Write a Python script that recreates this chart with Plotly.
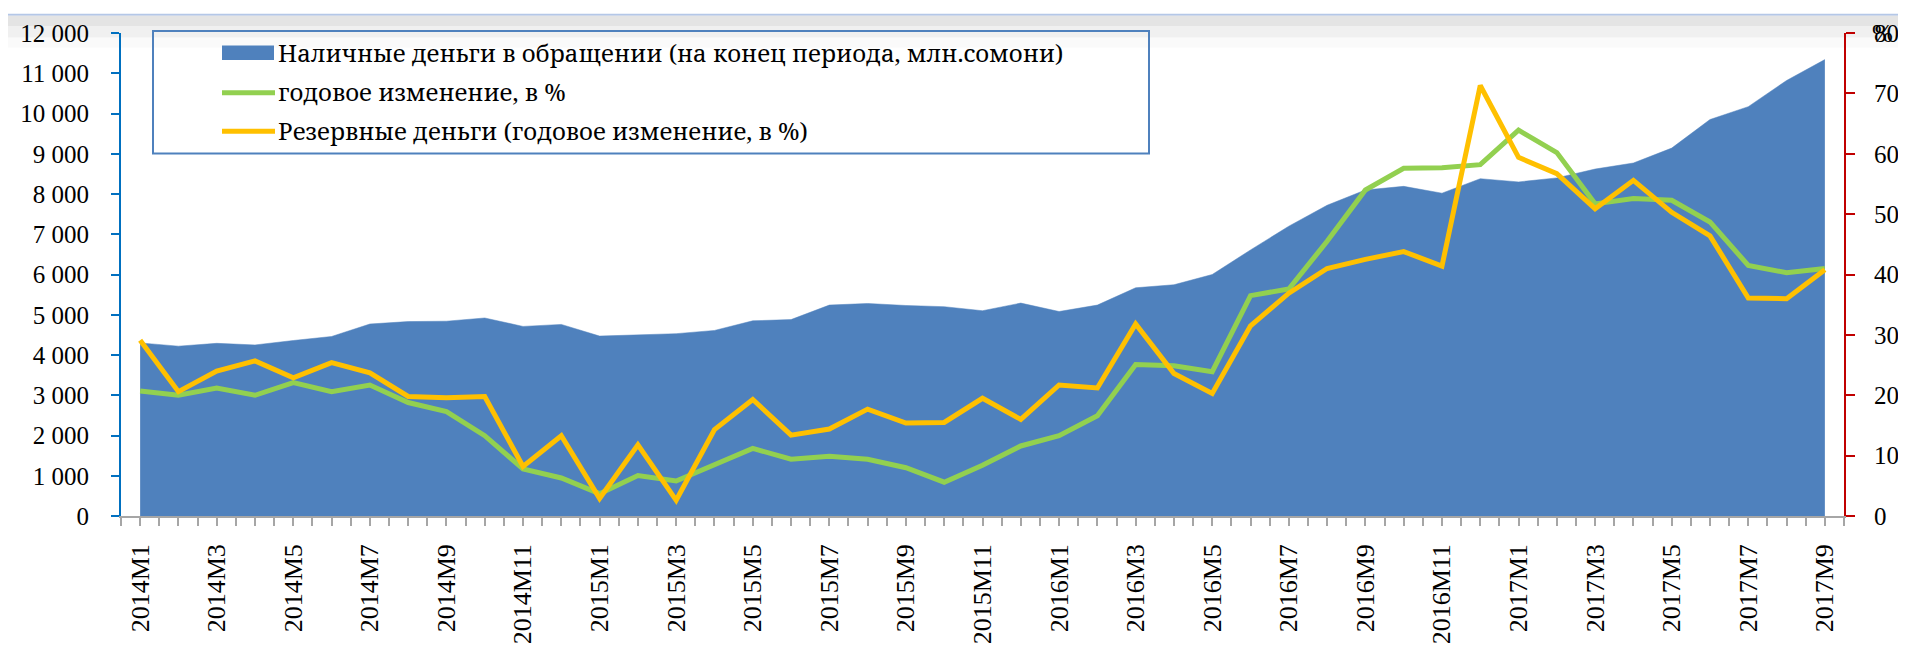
import plotly.graph_objects as go

# ---------------- data ----------------
months = [
    "2014M1", "2014M2", "2014M3", "2014M4", "2014M5", "2014M6", "2014M7", "2014M8", "2014M9", "2014M10", "2014M11", "2014M12",
    "2015M1", "2015M2", "2015M3", "2015M4", "2015M5", "2015M6", "2015M7", "2015M8", "2015M9", "2015M10", "2015M11", "2015M12",
    "2016M1", "2016M2", "2016M3", "2016M4", "2016M5", "2016M6", "2016M7", "2016M8", "2016M9", "2016M10", "2016M11", "2016M12",
    "2017M1", "2017M2", "2017M3", "2017M4", "2017M5", "2017M6", "2017M7", "2017M8", "2017M9",
]
cash = [
    4300, 4220, 4290, 4250, 4360, 4460, 4770, 4830, 4840, 4920, 4710, 4760,
    4470, 4500, 4530, 4610, 4850, 4880, 5240, 5280, 5230, 5200, 5100, 5290,
    5080, 5240, 5670, 5745, 6000, 6610, 7200, 7720, 8100, 8190, 8020, 8380,
    8300, 8400, 8620, 8770, 9140, 9850, 10170, 10820, 11340,
]
cash_yoy = [
    20.7, 20.0, 21.2, 20.0, 22.1, 20.6, 21.7, 18.8, 17.3, 13.3, 7.8, 6.3,
    3.7, 6.7, 5.8, 8.5, 11.2, 9.4, 9.9, 9.4, 8.0, 5.6, 8.4, 11.6,
    13.3, 16.6, 25.1, 24.9, 23.9, 36.5, 37.6, 45.5, 54.0, 57.6, 57.7, 58.2,
    63.9, 60.2, 51.7, 52.6, 52.3, 48.7, 41.5, 40.3, 41.0,
]
reserve_yoy = [
    29.1, 20.6, 24.0, 25.7, 22.9, 25.4, 23.7, 19.8, 19.6, 19.8, 8.2, 13.3,
    2.9, 11.8, 2.6, 14.3, 19.3, 13.4, 14.4, 17.7, 15.4, 15.5, 19.5, 16.0,
    21.7, 21.2, 31.8, 23.6, 20.3, 31.5, 36.9, 41.0, 42.5, 43.8, 41.4, 71.3,
    59.4, 56.7, 50.9, 55.6, 50.3, 46.4, 36.1, 36.0, 40.8,
]
names = [
    "Наличные деньги в обращении (на конец периода, млн.сомони)",
    "годовое изменение, в %",
    "Резервные деньги (годовое изменение, в %)",
]
tick_labels = months[::2]

# ---------------- style ----------------
W, H = 1906, 648
ML, MR, MT, MB = 113, 70, 20, 127
PW, PH = W - ML - MR, H - MT - MB
FONT = "Liberation Serif"
LEG_FONT = "Noto Serif"
BLUE = "#4F81BD"
GREEN = "#92D050"
ORANGE = "#FFC000"

def px(x):
    return (x - ML) / PW

def py(y):
    return (H - MB - y) / PH

idx = list(range(len(months)))

fig = go.Figure()
fig.add_trace(go.Scatter(x=idx, y=cash, name=names[0], mode="lines", fill="tozeroy",
                         fillcolor=BLUE, line=dict(color=BLUE, width=0.5), yaxis="y"))
fig.add_trace(go.Scatter(x=idx, y=cash_yoy, name=names[1], mode="lines",
                         line=dict(color=GREEN, width=5), yaxis="y2"))
fig.add_trace(go.Scatter(x=idx, y=reserve_yoy, name=names[2], mode="lines",
                         line=dict(color=ORANGE, width=5), yaxis="y2"))

shapes = []
bands = [(0, 2, "#B4C7E7"), (2, 12.7, "#E4E4E4"), (12.7, 25, "#F0F0F0"), (25, 35, "#FAFAFA")]
for y0, y1, c in bands:
    shapes.append(dict(type="rect", xref="paper", yref="paper", x0=px(0), x1=px(W),
                       y0=py(y1), y1=py(y0), fillcolor=c, line=dict(width=0), layer="below"))
shapes.append(dict(type="rect", xref="paper", yref="paper", x0=px(145), x1=px(1141),
                   y0=py(145), y1=py(18), line=dict(color="#4F81BD", width=2), fillcolor="rgba(0,0,0,0)"))
shapes.append(dict(type="rect", xref="paper", yref="paper", x0=px(214), x1=px(266),
                   y0=py(48), y1=py(33), fillcolor=BLUE, line=dict(width=0)))
shapes.append(dict(type="line", xref="paper", yref="paper", x0=px(214), x1=px(267),
                   y0=py(82), y1=py(82), line=dict(color=GREEN, width=5)))
shapes.append(dict(type="line", xref="paper", yref="paper", x0=px(214), x1=px(267),
                   y0=py(122), y1=py(122), line=dict(color=ORANGE, width=5)))

annotations = []
for name, yc in zip(names, [40, 81, 121]):
    annotations.append(dict(text=name, xref="paper", yref="paper", x=px(268), y=py(yc),
                            xanchor="left", yanchor="middle", showarrow=False,
                            font=dict(family=LEG_FONT, size=24, color="black")))
annotations.append(dict(text="%", xref="paper", yref="paper", x=px(1862), y=py(21),
                        xanchor="left", yanchor="middle", showarrow=False,
                        font=dict(family=FONT, size=25, color="black")))

fig.update_layout(
    width=W, height=H,
    margin=dict(l=ML, r=MR, t=MT, b=MB, pad=0),
    paper_bgcolor="white", plot_bgcolor="rgba(0,0,0,0)",
    showlegend=False,
    separators=", ",
    font=dict(family=FONT, size=25, color="black"),
    shapes=shapes, annotations=annotations,
    xaxis=dict(range=[-0.5, len(months) - 0.5], tickmode="array",
               tickvals=idx[::2], ticktext=tick_labels, tickangle=-90,
               showgrid=False, zeroline=False, showline=True, linecolor="#A6A6A6", linewidth=1.5,
               ticks="outside", ticklen=8, tickcolor="#A6A6A6", tickwidth=1.5,
               ticklabelstandoff=8,
               minor=dict(tick0=-0.5, dtick=0.5, ticks="outside", ticklen=8,
                          tickcolor="#A6A6A6", tickwidth=1.5, showgrid=False),
               tickfont=dict(family=FONT, size=26)),
    yaxis=dict(range=[0, 12000], dtick=1000, tickformat=",d", showgrid=False, zeroline=False,
               showline=True, linecolor="#0070C0", linewidth=2, ticks="outside", ticklen=8,
               tickcolor="#0070C0", tickwidth=2, ticklabelstandoff=17,
               tickfont=dict(family=FONT, size=25)),
    yaxis2=dict(range=[0, 80], dtick=10, overlaying="y", side="right", showgrid=False,
                zeroline=False, showline=True, linecolor="#C00000", linewidth=2,
                ticks="outside", ticklen=9, tickcolor="#C00000", tickwidth=2,
                ticklabelstandoff=14, tickfont=dict(family=FONT, size=25)),
)

fig.write_html("out.html")
